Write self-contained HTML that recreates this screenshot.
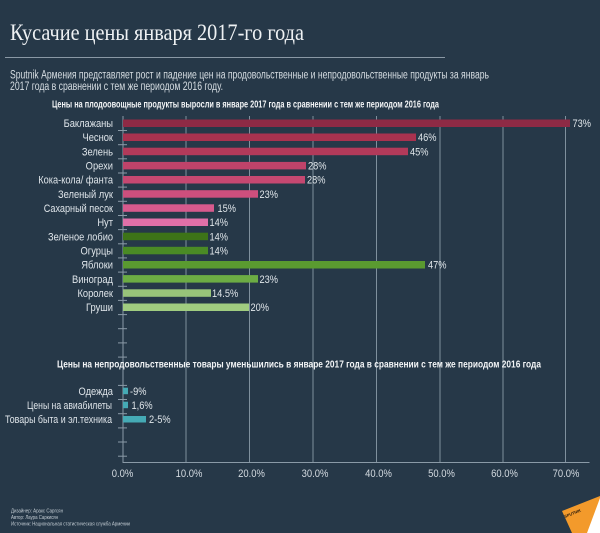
<!DOCTYPE html>
<html><head><meta charset="utf-8"><style>
html,body{margin:0;padding:0;background:#263848;}
svg{display:block;}
text{font-family:"Liberation Sans","Noto Sans CJK SC",sans-serif;}
</style></head><body>
<svg width="600" height="533" viewBox="0 0 600 533" xmlns="http://www.w3.org/2000/svg">
<rect width="600" height="533" fill="#263848"/>
<text x="10" y="40" font-size="23" fill="#eef1f3" textLength="294" lengthAdjust="spacingAndGlyphs" style="font-family:'Liberation Serif',serif">Кусачие цены января 2017-го года</text>
<rect x="5" y="57" width="440" height="1" fill="#8a98a5"/>
<text x="10" y="78.5" font-size="11.5" fill="#d6dde2" textLength="479" lengthAdjust="spacingAndGlyphs">Sputnik Армения представляет рост и падение цен на продовольственные и непродовольственные продукты за январь</text>
<text x="10" y="90" font-size="11.5" fill="#d6dde2" textLength="213" lengthAdjust="spacingAndGlyphs">2017 года в сравнении с тем же периодом 2016 году.</text>
<text x="52" y="107.5" font-size="10" font-weight="bold" fill="#f2f4f6" textLength="387" lengthAdjust="spacingAndGlyphs">Цены на плодоовощные продукты выросли в январе 2017 года в сравнении с тем же периодом 2016 года</text>

<!-- gridlines -->
<g fill="#7f909d">
<rect x="185.5" y="116" width="1" height="346"/>
<rect x="249" y="116" width="1" height="346"/>
<rect x="312.5" y="116" width="1" height="346"/>
<rect x="376" y="116" width="1" height="346"/>
<rect x="439.5" y="116" width="1" height="346"/>
<rect x="502.5" y="116" width="1" height="346"/>
<rect x="565" y="116" width="1" height="346"/>
</g>
<rect x="122.5" y="116" width="1" height="347" fill="#8a9aa7"/>
<rect x="122.5" y="462" width="467" height="1" fill="#8a9aa7"/>
<!-- ticks -->
<g fill="#8a9aa7">
<rect x="118" y="130" width="9" height="1"/>
<rect x="118" y="144.2" width="9" height="1"/>
<rect x="118" y="158.3" width="9" height="1"/>
<rect x="118" y="172.5" width="9" height="1"/>
<rect x="118" y="186.6" width="9" height="1"/>
<rect x="118" y="200.8" width="9" height="1"/>
<rect x="118" y="215" width="9" height="1"/>
<rect x="118" y="229.1" width="9" height="1"/>
<rect x="118" y="243.3" width="9" height="1"/>
<rect x="118" y="257.4" width="9" height="1"/>
<rect x="118" y="271.6" width="9" height="1"/>
<rect x="118" y="285.8" width="9" height="1"/>
<rect x="118" y="299.9" width="9" height="1"/>
<rect x="118" y="314.1" width="9" height="1"/>
<rect x="118" y="328.2" width="9" height="1"/>
<rect x="118" y="342.4" width="9" height="1"/>
<rect x="118" y="356.6" width="9" height="1"/>
<rect x="118" y="384.9" width="9" height="1"/>
<rect x="118" y="399" width="9" height="1"/>
<rect x="118" y="413.2" width="9" height="1"/>
<rect x="118" y="427.4" width="9" height="1"/>
<rect x="118" y="441.5" width="9" height="1"/>
<rect x="118" y="455.7" width="9" height="1"/>
</g>

<!-- bars -->
<rect x="123" y="119.5" width="447" height="7.5" fill="#8e2a45"/>
<rect x="123" y="133.5" width="293" height="7.5" fill="#a8324f"/>
<rect x="123" y="147.7" width="285" height="7.5" fill="#b23a5a"/>
<rect x="123" y="161.9" width="183" height="7.5" fill="#bf436a"/>
<rect x="123" y="176" width="182" height="7.5" fill="#c54871"/>
<rect x="123" y="190.2" width="135" height="7.5" fill="#cd4f7d"/>
<rect x="123" y="204.3" width="91" height="7.5" fill="#d65a8d"/>
<rect x="123" y="218.5" width="85" height="7.5" fill="#e070a8"/>
<rect x="123" y="232.7" width="85" height="7.5" fill="#3d7318"/>
<rect x="123" y="246.8" width="85" height="7.5" fill="#4a8a25"/>
<rect x="123" y="261" width="302" height="7.5" fill="#5a9a30"/>
<rect x="123" y="275.1" width="135" height="7.5" fill="#6cac44"/>
<rect x="123" y="289.3" width="88" height="7.5" fill="#98c47a"/>
<rect x="123" y="303.5" width="126" height="7.5" fill="#a0cc80"/>

<rect x="123" y="387.7" width="5" height="6.5" fill="#45aab5"/>
<rect x="123" y="401.7" width="5" height="6.5" fill="#45aab5"/>
<rect x="123" y="416" width="23" height="6.5" fill="#45aab5"/>

<!-- category labels -->
<g fill="#dfe5ea" font-size="11" text-anchor="end">
<text transform="translate(113,127) scale(0.85,1)">Баклажаны</text>
<text transform="translate(113,141.2) scale(0.85,1)">Чеснок</text>
<text transform="translate(113,155.4) scale(0.85,1)">Зелень</text>
<text transform="translate(113,169.6) scale(0.85,1)">Орехи</text>
<text transform="translate(113,183.7) scale(0.84,1)">Кока-кола/ фанта</text>
<text transform="translate(113,197.9) scale(0.85,1)">Зеленый лук</text>
<text transform="translate(113,212) scale(0.83,1)">Сахарный песок</text>
<text transform="translate(113,226.2) scale(0.85,1)">Нут</text>
<text transform="translate(113,240.4) scale(0.84,1)">Зеленое лобио</text>
<text transform="translate(113,254.5) scale(0.85,1)">Огурцы</text>
<text transform="translate(113,268.7) scale(0.85,1)">Яблоки</text>
<text transform="translate(113,282.8) scale(0.85,1)">Виноград</text>
<text transform="translate(113,297) scale(0.85,1)">Королек</text>
<text transform="translate(113,311.2) scale(0.85,1)">Груши</text>
<text transform="translate(113,395) scale(0.85,1)">Одежда</text>
</g>
<g fill="#dfe5ea" font-size="11">
<text x="27" y="409" textLength="85" lengthAdjust="spacingAndGlyphs">Цены на авиабилеты</text>
<text x="5" y="423.2" textLength="107" lengthAdjust="spacingAndGlyphs">Товары быта и эл.техника</text>
</g>

<!-- value labels -->
<g fill="#e0e6ea" font-size="11">
<text transform="translate(572.5,127) scale(0.84,1)">73%</text>
<text transform="translate(418,141.2) scale(0.84,1)">46%</text>
<text transform="translate(410,155.4) scale(0.84,1)">45%</text>
<text transform="translate(308,169.6) scale(0.84,1)">28%</text>
<text transform="translate(307,183.7) scale(0.84,1)">28%</text>
<text transform="translate(259.5,197.9) scale(0.84,1)">23%</text>
<text transform="translate(217.5,212) scale(0.84,1)">15%</text>
<text transform="translate(209.5,226.2) scale(0.84,1)">14%</text>
<text transform="translate(209.5,240.4) scale(0.84,1)">14%</text>
<text transform="translate(209.5,254.5) scale(0.84,1)">14%</text>
<text transform="translate(428,268.7) scale(0.84,1)">47%</text>
<text transform="translate(259.5,282.8) scale(0.84,1)">23%</text>
<text transform="translate(212,297) scale(0.84,1)">14.5%</text>
<text transform="translate(250.5,311.2) scale(0.84,1)">20%</text>
<text transform="translate(130,395) scale(0.84,1)">-9%</text>
<text transform="translate(131.5,409) scale(0.84,1)">1,6%</text>
<text transform="translate(149,423.2) scale(0.84,1)">2-5%</text>
</g>

<text x="57" y="367.5" font-size="10" font-weight="bold" fill="#f2f4f6" textLength="484" lengthAdjust="spacingAndGlyphs">Цены на непродовольственные товары уменьшились в январе 2017 года в сравнении с тем же периодом 2016 года</text>

<!-- x tick labels -->
<g fill="#d3dae0" font-size="11" text-anchor="middle">
<text transform="translate(122.5,477) scale(0.86,1)">0.0%</text>
<text transform="translate(189,477) scale(0.86,1)">10.0%</text>
<text transform="translate(251.5,477) scale(0.86,1)">20.0%</text>
<text transform="translate(315,477) scale(0.86,1)">30.0%</text>
<text transform="translate(378.5,477) scale(0.86,1)">40.0%</text>
<text transform="translate(441.5,477) scale(0.86,1)">50.0%</text>
<text transform="translate(504.5,477) scale(0.86,1)">60.0%</text>
<text transform="translate(566,477) scale(0.86,1)">70.0%</text>
</g>

<!-- footer -->
<g fill="#c3ccd3" font-size="5.5">
<text x="11" y="512.5" textLength="52" lengthAdjust="spacingAndGlyphs">Дизайнер: Аракс Саргсян</text>
<text x="11" y="519" textLength="47" lengthAdjust="spacingAndGlyphs">Автор: Лаура Саркисян</text>
<text x="11" y="525.5" textLength="119" lengthAdjust="spacingAndGlyphs">Источник: Национальная статистическая служба Армении</text>
</g>

<!-- sputnik logo -->
<polygon points="562,511 600,496 600,533 572,533" fill="#f39a2b"/>
<polygon points="600,498 600,533 587,533" fill="#ffffff"/>
<text transform="translate(565,518) rotate(-22)" font-size="4" font-weight="bold" fill="#2a1a0a">SPUTNIK</text>
</svg>
</body></html>
